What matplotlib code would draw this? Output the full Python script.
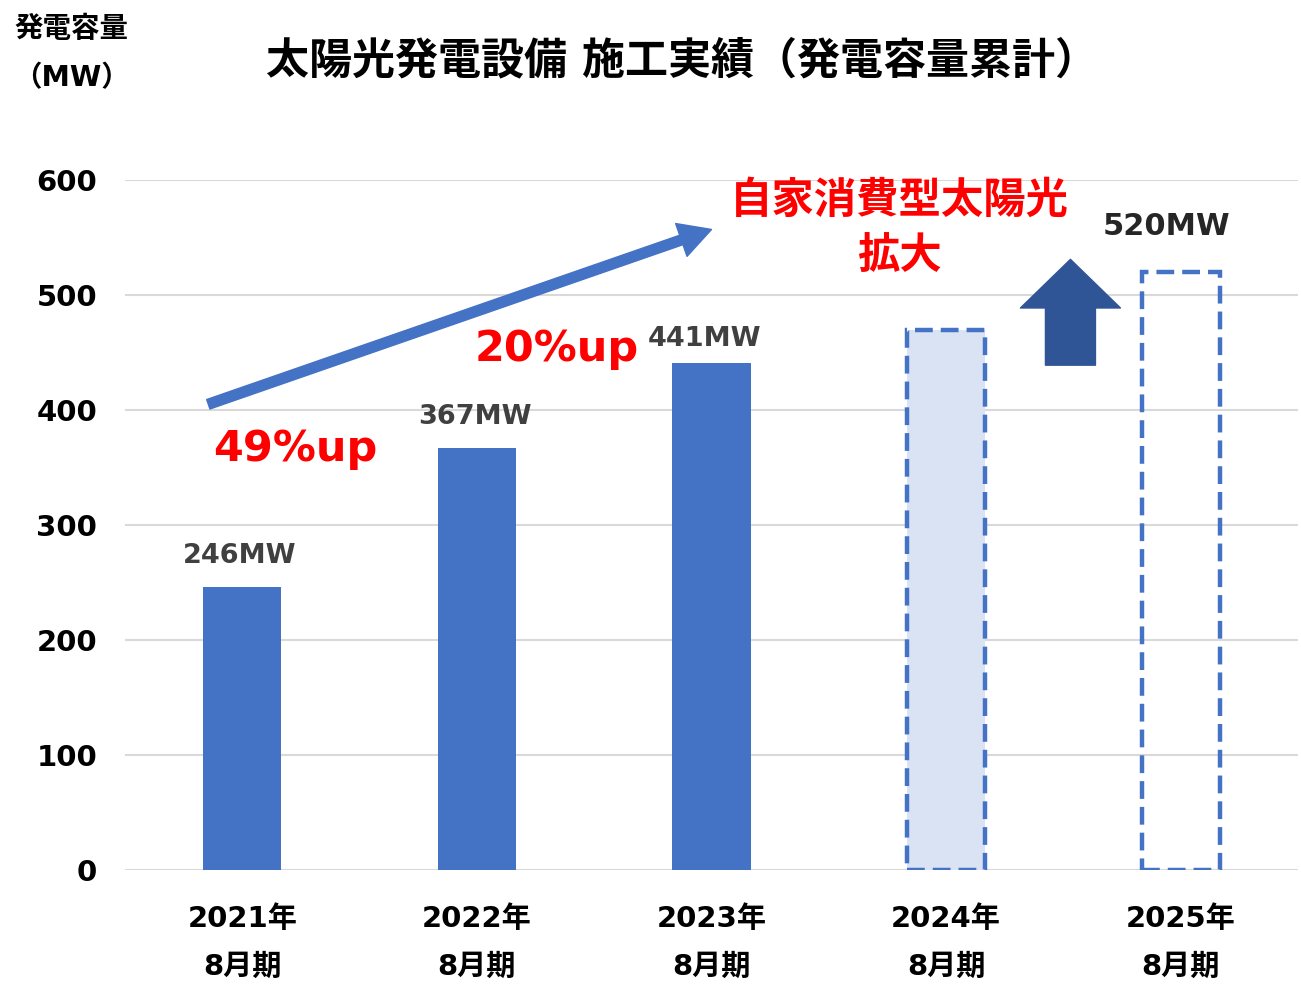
import matplotlib
matplotlib.use("Agg")
import matplotlib.pyplot as plt
from matplotlib.patches import FancyArrowPatch

plt.rcParams['font.family'] = ['DejaVu Sans', 'Noto Sans CJK JP']

years = ["2021年", "2022年", "2023年", "2024年", "2025年"]
periods = ["8月期"] * 5
values = [246, 367, 441, 470, 520]
labels = ["246MW", "367MW", "441MW", None, "520MW"]
actual = [True, True, True, False, False]
yticks = [0, 100, 200, 300, 400, 500, 600]

BLUE = "#4472C4"
LIGHT = "#DAE3F3"
DARK = "#2F5597"

fig = plt.figure(figsize=(13.01, 9.88), dpi=100)
ax = fig.add_axes([0.0961, 0.1194, 0.9016, 0.6984])
ax.set_xlim(-0.5, 4.5)
ax.set_ylim(0, 600)

for s in ax.spines.values():
    s.set_visible(False)
ax.set_yticks(yticks)
ax.yaxis.grid(True, color="#D9D9D9", lw=1.5)
ax.set_axisbelow(True)
ax.tick_params(length=0)
ax.set_yticklabels([str(v) for v in yticks], fontsize=21, fontweight="bold")
ax.tick_params(axis="y", pad=20)

x = list(range(len(values)))
w = 0.333
dash = (0, (4, 1.8))
for i, v in enumerate(values):
    if actual[i]:
        ax.bar(i, v, width=w, color=BLUE, zorder=3)
    elif i == 3:
        ax.bar(i, v, width=w, color=LIGHT, edgecolor=BLUE, linewidth=3.2,
               linestyle=dash, zorder=3)
    else:
        ax.bar(i, v, width=w, color="none", edgecolor=BLUE, linewidth=3.2,
               linestyle=dash, zorder=3)

ax.set_xticks(x)
ax.set_xticklabels([f"{a}\n{b}" for a, b in zip(years, periods)], fontsize=21,
                   fontweight="bold", linespacing=1.92)
ax.tick_params(axis="x", pad=25)

label_dx = {0: -0.01, 1: -0.01, 2: -0.03, 4: -0.06}
label_dy = {0: 27, 1: 27, 2: 21, 4: 40}
label_size = {0: 19.5, 1: 19.5, 2: 19.5, 4: 22}
label_colors = {0: "#404040", 1: "#404040", 2: "#404040", 4: "#262626"}
for i, lab in enumerate(labels):
    if lab is None:
        continue
    ax.text(i + label_dx[i], values[i] + label_dy[i], lab, ha="center",
            va="center", fontsize=label_size[i], fontweight="bold",
            color=label_colors[i], zorder=5)

# growth arrow
ax.add_patch(FancyArrowPatch((-0.145, 405), (2.0, 557),
                             arrowstyle="simple,head_width=2.5,head_length=2.3,tail_width=0.72",
                             mutation_scale=10, color=BLUE, zorder=4,
                             shrinkA=0, shrinkB=0, clip_on=False))

ax.text(0.226, 366, "49%up", color="#FF0000", fontsize=31, fontweight="bold",
        ha="center", va="center")
ax.text(1.342, 453, "20%up", color="#FF0000", fontsize=31, fontweight="bold",
        ha="center", va="center")
ax.text(2.80, 582, "自家消費型太陽光", color="#FF0000", fontsize=30.5,
        fontweight="bold", ha="center", va="center", clip_on=False)
ax.text(2.80, 534, "拡大", color="#FF0000", fontsize=30.5,
        fontweight="bold", ha="center", va="center")

# block up arrow
ax.add_patch(FancyArrowPatch((3.53, 439), (3.53, 531),
                             arrowstyle="simple,head_width=7.2,head_length=3.5,tail_width=3.6",
                             mutation_scale=10, color=DARK, zorder=4,
                             shrinkA=0, shrinkB=0))

fig.text(0.5245, 0.938, "太陽光発電設備 施工実績（発電容量累計）", fontsize=31,
         fontweight="bold", ha="center", va="center")
fig.text(0.055, 0.971, "発電容量", fontsize=20.5, fontweight="bold",
         ha="center", va="center")
fig.text(0.055, 0.921, "（MW）", fontsize=20.5, fontweight="bold",
         ha="center", va="center")

fig.savefig("out.png", dpi=100)
